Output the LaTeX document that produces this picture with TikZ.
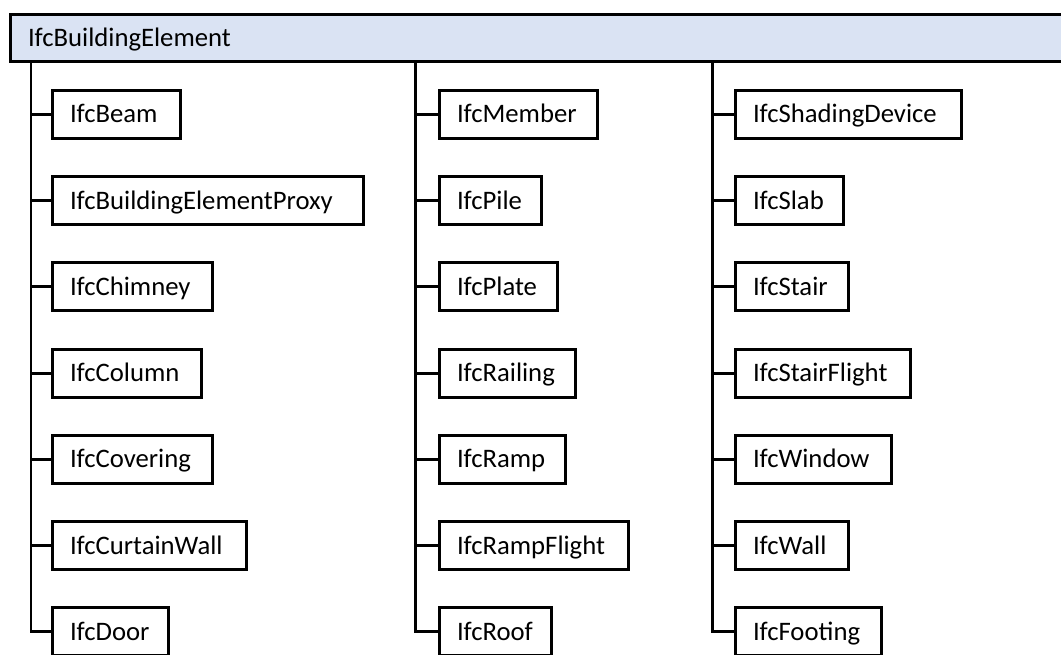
\documentclass[tikz,border=0pt]{standalone}
\usepackage{fontspec}
\setmainfont{Carlito}
\definecolor{hdrblue}{HTML}{DAE3F3}
\tikzset{
  cls/.style={draw=black, line width=3pt, minimum height=48pt, inner xsep=17.5pt,
    inner ysep=0pt, outer sep=0pt, anchor=west, text height=17pt, text depth=0pt,
    font=\fontsize{26.7}{30}\selectfont},
  root/.style={cls, fill=hdrblue, minimum height=47.3pt, anchor=north west},
  link/.style={draw=black, line width=2.8pt}
}
% class box: name, left x, centre y, width, label
\newcommand{\ifcbox}[5]{%
  \node[cls] (#1) at (#2,#3) {\makebox[\dimexpr #4pt-35pt\relax][l]{#5}};}
\begin{document}
\begin{tikzpicture}[x=1pt, y=-1pt]
\clip (0,0) rectangle (1061,655);
\fill[white] (0,0) rectangle (1061,655);

\node[root] (hdr) at (10.5,14.5) {\makebox[1030pt][l]{IfcBuildingElement}};

% first column
\ifcbox{beam}{52.5}{114.5}{128}{IfcBeam}
\ifcbox{proxy}{52.5}{200.7}{311}{IfcBuildingElementProxy}
\ifcbox{chimney}{52.5}{286.9}{160}{IfcChimney}
\ifcbox{column}{52.5}{373.1}{149}{IfcColumn}
\ifcbox{covering}{52.5}{459.3}{160}{IfcCovering}
\ifcbox{curtain}{52.5}{545.5}{194}{IfcCurtainWall}
\ifcbox{door}{52.5}{631.7}{116}{IfcDoor}

% second column
\ifcbox{member}{439.5}{114.5}{158}{IfcMember}
\ifcbox{pile}{439.5}{200.7}{102}{IfcPile}
\ifcbox{plate}{439.5}{286.9}{118}{IfcPlate}
\ifcbox{railing}{439.5}{373.1}{136}{IfcRailing}
\ifcbox{ramp}{439.5}{459.3}{126}{IfcRamp}
\ifcbox{rampflight}{439.5}{545.5}{189}{IfcRampFlight}
\ifcbox{roof}{439.5}{631.7}{112}{IfcRoof}

% third column
\ifcbox{shading}{735.5}{114.5}{226}{IfcShadingDevice}
\ifcbox{slab}{735.5}{200.7}{108}{IfcSlab}
\ifcbox{stair}{735.5}{286.9}{113}{IfcStair}
\ifcbox{stairflight}{735.5}{373.1}{175}{IfcStairFlight}
\ifcbox{window}{735.5}{459.3}{156}{IfcWindow}
\ifcbox{wall}{735.5}{545.5}{113}{IfcWall}
\ifcbox{footing}{735.5}{631.7}{146}{IfcFooting}

% trunk tops on the lower edge of the header
\coordinate (ta) at ([xshift=20.5pt]hdr.south west);
\coordinate (tb) at ([xshift=405.2pt]hdr.south west);
\coordinate (tc) at ([xshift=702.2pt]hdr.south west);

% trunks ending in the last branch
\draw[link] (ta) |- (door.west);
\draw[link] (tb) |- (roof.west);
\draw[link] (tc) |- (footing.west);

% branches
\foreach \n in {beam,proxy,chimney,column,covering,curtain}
  \draw[link] (ta |- \n.west) -- (\n.west);
\foreach \n in {member,pile,plate,railing,ramp,rampflight}
  \draw[link] (tb |- \n.west) -- (\n.west);
\foreach \n in {shading,slab,stair,stairflight,window,wall}
  \draw[link] (tc |- \n.west) -- (\n.west);
\end{tikzpicture}
\end{document}
